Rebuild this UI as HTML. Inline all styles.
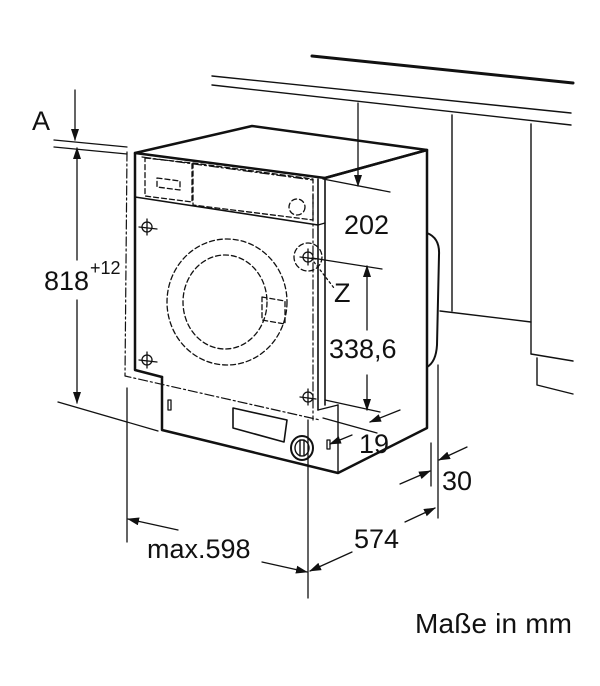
<!DOCTYPE html>
<html><head><meta charset="utf-8"><style>
html,body{margin:0;padding:0;background:#fff;}
svg{display:block;}
text{font-family:"Liberation Sans",sans-serif;fill:#111;}
</style></head><body>
<svg width="600" height="686" viewBox="0 0 600 686" xmlns="http://www.w3.org/2000/svg">
<defs>
<marker id="ar" markerWidth="12" markerHeight="8" refX="11" refY="4" orient="auto" markerUnits="userSpaceOnUse">
<path d="M0,0 L12,4 L0,8 Z" fill="#111"/></marker>
</defs>
<g stroke="#111" fill="none" stroke-linecap="round" stroke-linejoin="round">
<line x1="312" y1="56" x2="573" y2="83" stroke-width="3"/>
<line x1="212" y1="76" x2="571" y2="113" stroke-width="1.4"/>
<line x1="212" y1="85" x2="571" y2="125" stroke-width="1.4"/>
<line x1="452" y1="115" x2="452" y2="311" stroke-width="1.4"/>
<line x1="531" y1="124" x2="531" y2="354" stroke-width="1.4"/>
<polyline points="440,311 531,322" stroke-width="1.4"/>
<line x1="531" y1="354" x2="573" y2="361" stroke-width="1.4"/>
<polyline points="537,358 537,385 573,394" stroke-width="1.4"/>
<polygon points="135,153 252,126 427,150 325,178" stroke-width="2.5"/>
<polyline points="135,153 135,370 162,377" stroke-width="2.5"/>
<polyline points="325,178 427,150 427,428 338,473 162,430 162,377" stroke-width="2.5"/>
<line x1="338" y1="405" x2="338" y2="473" stroke-width="1.4"/>
<polyline points="318,410 338,405" stroke-width="1.4"/>
<line x1="318" y1="179" x2="318" y2="410" stroke-width="1.6"/>
<line x1="325" y1="178" x2="325" y2="405" stroke-width="1.6"/>
<line x1="135" y1="197" x2="318" y2="225" stroke-width="1.6"/>
<line x1="318" y1="225" x2="325" y2="223" stroke-width="1.4"/>
<path d="M427,233 Q440,238 439,255 L437,345 Q436,362 427,367" stroke-width="2"/>
<g stroke-dasharray="5,3" stroke-width="1.3">
<polygon points="145,158 192,163 192,202 145,196"/>
<polygon points="157,178 180,181 180,190 157,187"/>
<polygon points="193,163 313,179 313,220 193,205"/>
<circle cx="297" cy="207" r="8"/>
<ellipse cx="227" cy="302" rx="60" ry="63"/>
<ellipse cx="225" cy="302" rx="42" ry="47"/>
<path d="M262,297 L285,301 L285,324 L262,320 Z"/>
<circle cx="308" cy="257" r="14"/>
</g>
<g stroke-dasharray="9,3,2,3" stroke-width="1.2">
<polyline points="127,152 125,376 320,420"/>
<line x1="313" y1="195" x2="313" y2="420"/>
<line x1="142" y1="157" x2="313" y2="180"/>
</g>
<g stroke-width="1.3">
<circle cx="147" cy="227" r="5"/><line x1="139" y1="227" x2="157" y2="229"/><line x1="147" y1="219" x2="147" y2="235"/>
<circle cx="147" cy="360" r="5"/><line x1="139" y1="360" x2="157" y2="362"/><line x1="147" y1="352" x2="147" y2="368"/>
<circle cx="308" cy="257" r="5"/><line x1="300" y1="257" x2="316" y2="259"/><line x1="308" y1="249" x2="308" y2="265"/>
<circle cx="308" cy="397" r="5"/><line x1="300" y1="397" x2="316" y2="399"/><line x1="308" y1="389" x2="308" y2="405"/>
</g>
<rect x="168" y="400" width="3" height="10" stroke-width="1.3"/>
<polygon points="233,408 287,420 284,442 233,428" stroke-width="1.6"/>
<ellipse cx="302" cy="448" rx="11" ry="12" stroke-width="2"/>
<ellipse cx="302" cy="448" rx="7" ry="8" stroke-width="1.4"/>
<line x1="300" y1="440" x2="300" y2="456" stroke-width="1.4"/>
<line x1="304" y1="440" x2="304" y2="456" stroke-width="1.4"/>
<rect x="327" y="440" width="3" height="9" stroke-width="1.3"/>
<g stroke-width="1.3">
<line x1="54" y1="140" x2="127" y2="147"/>
<line x1="54" y1="147" x2="127" y2="154"/>
<line x1="75" y1="90" x2="75" y2="140" marker-end="url(#ar)"/>
<line x1="77" y1="260" x2="77" y2="148" marker-end="url(#ar)"/>
<line x1="77" y1="300" x2="77" y2="403" marker-end="url(#ar)"/>
<line x1="58" y1="402" x2="158" y2="431"/>
<line x1="358" y1="103" x2="358" y2="186" marker-end="url(#ar)"/>
<line x1="323" y1="179" x2="390" y2="192"/>
<line x1="312" y1="258" x2="382" y2="269"/>
<line x1="367" y1="330" x2="367" y2="266" marker-end="url(#ar)"/>
<line x1="367" y1="375" x2="367" y2="410" marker-end="url(#ar)"/>
<line x1="325" y1="400" x2="380" y2="412"/>
<line x1="323" y1="418" x2="377" y2="433"/>
<line x1="400" y1="410" x2="370" y2="422" marker-end="url(#ar)"/>
<line x1="352" y1="435" x2="330" y2="444" marker-end="url(#ar)"/>
<line x1="314" y1="262" x2="334" y2="288" stroke-dasharray="2,3"/>
<line x1="431" y1="443" x2="431" y2="486"/>
<line x1="438" y1="365" x2="438" y2="518"/>
<line x1="400" y1="484" x2="430" y2="471" marker-end="url(#ar)"/>
<line x1="467" y1="447" x2="439" y2="460" marker-end="url(#ar)"/>
<line x1="127" y1="388" x2="127" y2="542"/>
<line x1="308" y1="420" x2="308" y2="598"/>
<line x1="178" y1="530" x2="128" y2="519" marker-end="url(#ar)"/>
<line x1="262" y1="562" x2="307" y2="572" marker-end="url(#ar)"/>
<line x1="352" y1="552" x2="310" y2="571" marker-end="url(#ar)"/>
<line x1="405" y1="522" x2="435" y2="508" marker-end="url(#ar)"/>
</g>
</g>
<text x="32" y="130" font-size="27">A</text>
<text x="44" y="290" font-size="27">818</text>
<text x="90" y="274" font-size="18">+12</text>
<text x="344" y="234" font-size="27">202</text>
<text x="334" y="302" font-size="27">Z</text>
<text x="329" y="358" font-size="27">338,6</text>
<text x="359" y="453" font-size="27">19</text>
<text x="442" y="490" font-size="27">30</text>
<text x="354" y="548" font-size="27">574</text>
<text x="147" y="558" font-size="27">max.598</text>
<text x="415" y="633" font-size="28" textLength="157">Maße in mm</text>
</svg>
</body></html>
